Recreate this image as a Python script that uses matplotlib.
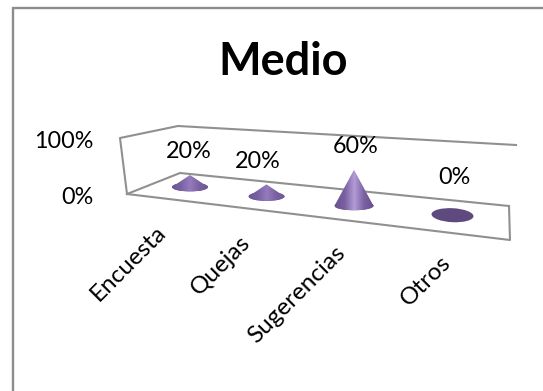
import numpy as np
import matplotlib
matplotlib.use("Agg")
import matplotlib.pyplot as plt
from matplotlib.patches import Ellipse, Polygon
from matplotlib.colors import LinearSegmentedColormap

categories = ["Encuesta", "Quejas", "Sugerencias", "Otros"]
values = [20, 20, 60, 0]
value_labels = ["20%", "20%", "60%", "0%"]
axis_ticks = ["0%", "100%"]
title = "Medio"

W, H = 543, 391
fig = plt.figure(figsize=(W / 100, H / 100), dpi=100, facecolor="white")
ax = fig.add_axes([0, 0, 1, 1])
ax.set_xlim(0, W)
ax.set_ylim(H, 0)
ax.axis("off")
FONT = ["Lato", "DejaVu Sans"]

# outer frame (open on the right)
ax.plot([12.5, 12.5, 543], [391, 8, 8], color="#8c8c8c", lw=1.7, solid_joinstyle="miter")

# perspective box
wall = "#909090"
lw = 1.5
ax.plot([127, 120, 178, 516], [194, 138, 126, 145], color=wall, lw=lw)
ax.plot([127, 180, 509], [194, 173, 206], color=wall, lw=lw)
ax.plot([127, 510, 509], [194, 240, 206], color=wall, lw=lw)

cmap_tall = LinearSegmentedColormap.from_list(
    "cone", ["#6a5290", "#7a62a2", "#b49cd8", "#7a62a2", "#67508c"])
cmap_small = LinearSegmentedColormap.from_list(
    "cone_small", ["#6f5796", "#7a62a2", "#937bbd", "#7a62a2", "#6f5796"])

def base_x(i):
    return 190 + 76.5 * i + 5.5 * i * (i - 1)

def base_y(i):
    return 187 + 9.4 * i

PX_PER_PCT = 0.6
gradient = np.linspace(0, 1, 64).reshape(1, -1)
for i, v in enumerate(values):
    cx, cy = base_x(i), base_y(i)
    h = v * PX_PER_PCT
    if v == 0:
        ax.add_patch(Ellipse((cx, cy), 42, 14, angle=3, facecolor="#5f4a80", edgecolor="none", zorder=3))
    else:
        hw = 18 if v == 20 else 19.5
        hh = 4.5
        body = Polygon([(cx - hw, cy), (cx, cy - h), (cx + hw, cy)], closed=True,
                       facecolor="none", edgecolor="none", zorder=3)
        bottom = Ellipse((cx, cy), 2 * hw, 2 * hh, facecolor="#6d5595", edgecolor="none", zorder=3)
        ax.add_patch(bottom)
        ax.add_patch(body)
        for clip in (body, bottom):
            im = ax.imshow(gradient, cmap=cmap_small if v == 20 else cmap_tall, aspect="auto",
                           extent=(cx - hw, cx + hw, cy + hh, cy - h), zorder=3.1)
            im.set_clip_path(clip)
ax.set_xlim(0, W)
ax.set_ylim(H, 0)

# value labels
label_dx = [-1, -9, 2, 2]
for i, lab in enumerate(value_labels):
    cx, cy = base_x(i), base_y(i)
    ly = cy - 38 if values[i] == 0 else cy - values[i] * PX_PER_PCT - 23
    ax.text(cx + label_dx[i], ly, lab, ha="center", va="center", fontsize=16.8,
            family=FONT, color="black", zorder=5)

# axis labels
ax.text(94, 198, axis_ticks[0], ha="right", va="center", fontsize=16.8, family=FONT)
ax.text(94, 142, axis_ticks[1], ha="right", va="center", fontsize=16.8, family=FONT)

# category labels
for i, c in enumerate(categories):
    ax.text(base_x(i) - 27 + 7.5 * i, 229 + i * 10, c, rotation=45, ha="right", va="center",
            rotation_mode="anchor", fontsize=17.5, family=FONT)

ax.text(283, 62, title, ha="center", va="center", fontsize=32.5, fontweight="bold", family=FONT)

fig.savefig("out.png", dpi=100, facecolor="white")
